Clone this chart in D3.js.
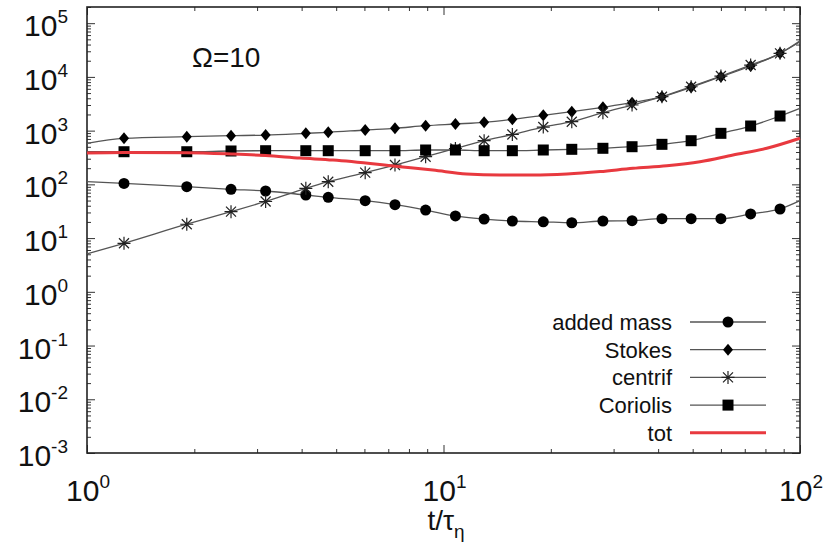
<!DOCTYPE html>
<html>
<head>
<meta charset="utf-8">
<script src="https://cdn.jsdelivr.net/npm/d3@7"></script>
<style>
  body { margin: 0; background: #fff; }
  text { font-family: "Liberation Sans", Arial, sans-serif; fill: #111; }
</style>
</head>
<body>
<svg id="chart" width="828" height="550"></svg>
<script>
// sample times (t / tau_eta); first and last are line ends, the rest carry markers
var times = [1, 1.27, 1.905, 2.535, 3.17, 4.11, 4.75, 6.03, 7.31, 8.91, 10.8, 13.0,
             15.6, 19.05, 22.9, 28.0, 33.8, 41.0, 49.5, 60.0, 72.7, 87.9, 100];
var addedMass = [112, 104, 90.4, 80.9, 75.2, 63.4, 57.4, 49.7, 41.8, 33.3, 25.8, 22.6,
                 20.8, 20.1, 19.3, 20.8, 21.1, 23.0, 23.0, 23.0, 28.1, 34.8, 49.7];
var stokes = [581, 720, 771, 804, 828, 891, 931, 1027, 1105, 1235, 1329, 1429,
              1624, 1929, 2250, 2717, 3310, 4277, 6397, 10090, 15960, 27480, 45200];
var centrif = [5.06, 8.0, 18.1, 31.0, 48, 84.5, 112, 165, 229, 327, 465, 649,
               847, 1167, 1465, 2157, 2999, 4277, 6561, 10380, 16630, 27480, 47200];
var coriolis = [405, 405, 405, 418, 423, 423, 423, 423, 423, 436, 436, 423,
                423, 436, 449, 469, 502, 556, 649, 891, 1219, 1871, 2603];
var totTimes = [1, 1.27, 1.9, 2.54, 3.17, 3.96, 4.9, 7.55, 9.34, 11.6, 14.4, 17.8,
                22.2, 27.5, 34.0, 42.3, 52.4, 64.9, 80.7, 100];
var tot = [383, 392, 388, 367, 344, 309, 284, 213, 185, 156, 149, 149,
           156, 173, 199, 222, 264, 352, 469, 720];

var xDecades = [1, 10, 100];
var yDecades = [-3, -2, -1, 0, 1, 2, 3, 4, 5];
var legendNames = ["added mass", "Stokes", "centrif", "Coriolis", "tot"];

var svg = d3.select("#chart"),
    pLeft = 87, pRight = 800, pTop = 7, pBottom = 453;

var x = d3.scaleLog().domain([1, 100]).range([pLeft, pRight]),
    y = d3.scaleLog().domain([1e-3, 2e5]).range([pBottom, pTop]);

// minor tick values
var xMinor = [], yMinor = [];
[1, 10].forEach(function(d) { for (var k = 2; k < 10; k++) xMinor.push(d * k); });
yDecades.forEach(function(e) {
  for (var k = 2; k < 10; k++) { var v = k * Math.pow(10, e); if (v <= 2e5) yMinor.push(v); }
});
var yMajor = yDecades.map(function(e) { return Math.pow(10, e); });

function addAxis(gen, tx, ty, vals, size) {
  var g = svg.append("g").attr("transform", "translate(" + tx + "," + ty + ")")
    .call(gen.tickValues(vals).tickSize(size).tickFormat(""));
  g.select(".domain").remove();
  g.selectAll("line").attr("stroke", "#333").attr("stroke-width", 1);
}
addAxis(d3.axisBottom(x), 0, pBottom, xDecades, -8);
addAxis(d3.axisBottom(x), 0, pBottom, xMinor, -4);
addAxis(d3.axisTop(x), 0, pTop, xDecades, -8);
addAxis(d3.axisTop(x), 0, pTop, xMinor, -4);
addAxis(d3.axisLeft(y), pLeft, 0, yMajor, -8);
addAxis(d3.axisLeft(y), pLeft, 0, yMinor, -4);
addAxis(d3.axisRight(y), pRight, 0, yMajor, -8);
addAxis(d3.axisRight(y), pRight, 0, yMinor, -4);

svg.append("rect")
  .attr("x", pLeft).attr("y", pTop)
  .attr("width", pRight - pLeft).attr("height", pBottom - pTop)
  .attr("fill", "none").attr("stroke", "#222").attr("stroke-width", 1.6);

// tick labels
yDecades.forEach(function(e) {
  var t = svg.append("text")
    .attr("x", 68).attr("y", y(Math.pow(10, e)) + 13)
    .attr("text-anchor", "end").style("font-size", "30px");
  t.append("tspan").text("10");
  t.append("tspan").attr("dy", -13).style("font-size", "19px").text(String(e));
});
xDecades.forEach(function(d, i) {
  var t = svg.append("text")
    .attr("x", x(d) + 1).attr("y", 501)
    .attr("text-anchor", "middle").style("font-size", "30px");
  t.append("tspan").text("10");
  t.append("tspan").attr("dy", -13).style("font-size", "19px").text(String(i));
});

var xl = svg.append("text").attr("x", 446).attr("y", 530)
  .attr("text-anchor", "middle").style("font-size", "28px");
xl.append("tspan").text("t/\u03c4");
xl.append("tspan").attr("dy", 8).style("font-size", "19px").text("\u03b7");

svg.append("text").attr("x", 192).attr("y", 67)
  .style("font-size", "28px").text("\u03a9=10");

// series
var line = d3.line()
  .curve(d3.curveMonotoneX)
  .x(function(d) { return x(d[0]); })
  .y(function(d) { return y(d[1]); });

var series = [
  {name: "added mass", values: addedMass, mark: "circle"},
  {name: "Stokes", values: stokes, mark: "diamond"},
  {name: "centrif", values: centrif, mark: "star"},
  {name: "Coriolis", values: coriolis, mark: "square"}
];

function drawMark(g, kind, cx, cy) {
  if (kind == "circle") {
    g.append("circle").attr("cx", cx).attr("cy", cy).attr("r", 5.5).attr("fill", "#000");
  } else if (kind == "diamond") {
    g.append("path").attr("d", "M" + cx + "," + (cy - 6) + "L" + (cx + 5) + "," + cy +
      "L" + cx + "," + (cy + 6) + "L" + (cx - 5) + "," + cy + "Z").attr("fill", "#000");
  } else if (kind == "square") {
    g.append("rect").attr("x", cx - 5.5).attr("y", cy - 5.5)
      .attr("width", 11).attr("height", 11).attr("fill", "#000");
  } else {
    var r = 6.5, s = 5;
    g.append("path").attr("d",
      "M" + (cx - r) + "," + cy + "H" + (cx + r) +
      "M" + cx + "," + (cy - r) + "V" + (cy + r) +
      "M" + (cx - s) + "," + (cy - s) + "L" + (cx + s) + "," + (cy + s) +
      "M" + (cx - s) + "," + (cy + s) + "L" + (cx + s) + "," + (cy - s))
      .attr("stroke", "#222").attr("stroke-width", 1.2).attr("fill", "none");
  }
}

series.forEach(function(s) {
  var pts = times.map(function(t, i) { return [t, s.values[i]]; });
  svg.append("path").datum(pts).attr("d", line)
    .attr("fill", "none").attr("stroke", "#555").attr("stroke-width", 1.3);
});
series.forEach(function(s) {
  var g = svg.append("g");
  times.forEach(function(t, i) {
    if (i == 0 || i == times.length - 1) return;
    drawMark(g, s.mark, x(t), y(s.values[i]));
  });
});

svg.append("path")
  .datum(totTimes.map(function(t, i) { return [t, tot[i]]; }))
  .attr("d", line)
  .attr("fill", "none").attr("stroke", "#e8393f").attr("stroke-width", 3);

// legend
legendNames.forEach(function(name, i) {
  var ly = 322 + i * 27.7;
  svg.append("text").attr("x", 672).attr("y", ly + 8)
    .attr("text-anchor", "end").style("font-size", "22px").text(name);
  if (i < 4) {
    svg.append("line").attr("x1", 690).attr("x2", 766).attr("y1", ly).attr("y2", ly)
      .attr("stroke", "#555").attr("stroke-width", 1.3);
    drawMark(svg.append("g"), series[i].mark, 728, ly);
  } else {
    svg.append("line").attr("x1", 690).attr("x2", 766).attr("y1", ly).attr("y2", ly)
      .attr("stroke", "#e8393f").attr("stroke-width", 3);
  }
});
</script>
</body>
</html>
